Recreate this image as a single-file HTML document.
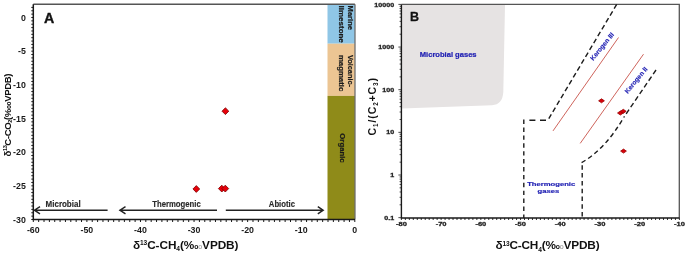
<!DOCTYPE html>
<html><head><meta charset="utf-8"><style>
html,body{margin:0;padding:0;background:#fff;width:685px;height:253px;overflow:hidden}
svg{display:block;filter:blur(0.35px)}
text{font-family:"Liberation Sans",sans-serif;font-weight:bold;fill:#1a1a1a}
.t8{font-size:8.8px}
.t7{font-size:8.3px;fill:#2a2a2a;stroke:#2a2a2a;stroke-width:0.15px}
.t7b{font-size:7.6px;fill:#1a1a1a;stroke:#1a1a1a;stroke-width:0.2px}
.t6{font-size:5.8px;fill:#222;stroke:#222;stroke-width:0.3px}
.big{font-size:14.2px;fill:#111;stroke:#111;stroke-width:0.35px}
.bigB{font-size:12.5px;fill:#111;stroke:#111;stroke-width:0.3px}
.lab{font-size:11.8px;fill:#111}
.sup{font-size:6.6px}
.sub{font-size:6.6px}
.o{font-size:7px;fill:#888;font-weight:normal}
.ob{font-size:6.8px}
.ob9{font-size:6.5px}
.lab9{font-size:9.6px;fill:#111}
.lab11{font-size:10.6px;fill:#111}
.sup9,.sub9{font-size:5.6px}
.sub11{font-size:6.4px}
.o9{font-size:6px;fill:#999;font-weight:normal}
.bl7{font-size:6.2px;fill:#2323b4;stroke:#2323b4;stroke-width:0.2px}
.bl7m{font-size:6.5px;fill:#2323b4;stroke:#2323b4;stroke-width:0.2px}
.bl6{font-size:6.5px;fill:#2323b4;stroke:#2323b4;stroke-width:0.15px}
</style></head><body>
<svg width="685" height="253" viewBox="0 0 685 253">
<rect x="327.5" y="4.5" width="27.3" height="39.2" fill="#8fc6e6"/>
<rect x="327.5" y="43.7" width="27.3" height="52.2" fill="#ecc593"/>
<rect x="327.5" y="95.9" width="27.3" height="123.4" fill="#8f8b19"/>
<path d="M33.3 4.3H354.9" fill="none" stroke="#555" stroke-width="1.5"/>
<path d="M355 4.3V219.5" fill="none" stroke="#555" stroke-width="1.1"/>
<path d="M33.3 4.3V219.5H355" fill="none" stroke="#1a1a1a" stroke-width="1.5"/>
<path d="M31.3 7.40H33.3M31.3 10.77H33.3M31.3 14.13H33.3M31.3 17.50H33.3M31.3 20.87H33.3M31.3 24.23H33.3M31.3 27.60H33.3M31.3 30.97H33.3M31.3 34.33H33.3M31.3 37.70H33.3M31.3 41.07H33.3M31.3 44.43H33.3M31.3 47.80H33.3M31.3 51.17H33.3M31.3 54.53H33.3M31.3 57.90H33.3M31.3 61.27H33.3M31.3 64.63H33.3M31.3 68.00H33.3M31.3 71.37H33.3M31.3 74.73H33.3M31.3 78.10H33.3M31.3 81.47H33.3M31.3 84.83H33.3M31.3 88.20H33.3M31.3 91.57H33.3M31.3 94.93H33.3M31.3 98.30H33.3M31.3 101.67H33.3M31.3 105.03H33.3M31.3 108.40H33.3M31.3 111.77H33.3M31.3 115.13H33.3M31.3 118.50H33.3M31.3 121.87H33.3M31.3 125.23H33.3M31.3 128.60H33.3M31.3 131.97H33.3M31.3 135.33H33.3M31.3 138.70H33.3M31.3 142.07H33.3M31.3 145.43H33.3M31.3 148.80H33.3M31.3 152.17H33.3M31.3 155.53H33.3M31.3 158.90H33.3M31.3 162.27H33.3M31.3 165.63H33.3M31.3 169.00H33.3M31.3 172.37H33.3M31.3 175.73H33.3M31.3 179.10H33.3M31.3 182.47H33.3M31.3 185.83H33.3M31.3 189.20H33.3M31.3 192.57H33.3M31.3 195.93H33.3M31.3 199.30H33.3M31.3 202.67H33.3M31.3 206.03H33.3M31.3 209.40H33.3M31.3 212.77H33.3M31.3 216.13H33.3M31.3 219.50H33.3" stroke="#1a1a1a" stroke-width="1"/>
<path d="M33.30 219.5V222M38.66 219.5V222M44.02 219.5V222M49.38 219.5V222M54.73 219.5V222M60.09 219.5V222M65.45 219.5V222M70.81 219.5V222M76.17 219.5V222M81.53 219.5V222M86.88 219.5V222M92.24 219.5V222M97.60 219.5V222M102.96 219.5V222M108.32 219.5V222M113.67 219.5V222M119.03 219.5V222M124.39 219.5V222M129.75 219.5V222M135.11 219.5V222M140.47 219.5V222M145.82 219.5V222M151.18 219.5V222M156.54 219.5V222M161.90 219.5V222M167.26 219.5V222M172.62 219.5V222M177.98 219.5V222M183.33 219.5V222M188.69 219.5V222M194.05 219.5V222M199.41 219.5V222M204.77 219.5V222M210.12 219.5V222M215.48 219.5V222M220.84 219.5V222M226.20 219.5V222M231.56 219.5V222M236.92 219.5V222M242.27 219.5V222M247.63 219.5V222M252.99 219.5V222M258.35 219.5V222M263.71 219.5V222M269.07 219.5V222M274.43 219.5V222M279.78 219.5V222M285.14 219.5V222M290.50 219.5V222M295.86 219.5V222M301.22 219.5V222M306.57 219.5V222M311.93 219.5V222M317.29 219.5V222M322.65 219.5V222M328.01 219.5V222M333.37 219.5V222M338.73 219.5V222M344.08 219.5V222M349.44 219.5V222M354.80 219.5V222" stroke="#1a1a1a" stroke-width="1"/>
<text x="25.8" y="20.60" text-anchor="end" class="t8">0</text>
<text x="25.8" y="54.27" text-anchor="end" class="t8">-5</text>
<text x="25.8" y="87.93" text-anchor="end" class="t8">-10</text>
<text x="25.8" y="121.60" text-anchor="end" class="t8">-15</text>
<text x="25.8" y="155.27" text-anchor="end" class="t8">-20</text>
<text x="25.8" y="188.93" text-anchor="end" class="t8">-25</text>
<text x="25.8" y="222.60" text-anchor="end" class="t8">-30</text>
<text x="33.30" y="232.8" text-anchor="middle" class="t8">-60</text>
<text x="86.88" y="232.8" text-anchor="middle" class="t8">-50</text>
<text x="140.47" y="232.8" text-anchor="middle" class="t8">-40</text>
<text x="194.05" y="232.8" text-anchor="middle" class="t8">-30</text>
<text x="247.63" y="232.8" text-anchor="middle" class="t8">-20</text>
<text x="301.22" y="232.8" text-anchor="middle" class="t8">-10</text>
<text x="354.80" y="232.8" text-anchor="middle" class="t8">0</text>
<text x="44" y="23" class="big">A</text>
<path d="M33.8 210.2H107.6M40.0 206.6L34.4 210.2L40.0 213.79999999999998" fill="none" stroke="#222" stroke-width="1.4"/>
<path d="M119.3 210.2H217M125.5 206.6L119.89999999999999 210.2L125.5 213.79999999999998" fill="none" stroke="#222" stroke-width="1.4"/>
<path d="M225.8 210.2H323.4M317.8 206.6L323.2 210.2L317.8 213.8" fill="none" stroke="#222" stroke-width="1.4"/>
<text x="45.6" y="206.9" class="t7" textLength="35" lengthAdjust="spacingAndGlyphs">Microbial</text>
<text x="152.2" y="206.9" class="t7" textLength="48.6" lengthAdjust="spacingAndGlyphs">Thermogenic</text>
<text x="268.8" y="206.9" class="t7" textLength="26.2" lengthAdjust="spacingAndGlyphs">Abiotic</text>
<path d="M225.4 107.8L228.8 111.2L225.4 114.60000000000001L222.0 111.2Z" fill="#e8000a" stroke="#7a0000" stroke-width="0.8"/>
<path d="M196.3 185.6L199.70000000000002 189L196.3 192.4L192.9 189Z" fill="#e8000a" stroke="#7a0000" stroke-width="0.8"/>
<path d="M221.8 185.2L225.20000000000002 188.6L221.8 192.0L218.4 188.6Z" fill="#e8000a" stroke="#7a0000" stroke-width="0.8"/>
<path d="M225.3 185.2L228.70000000000002 188.6L225.3 192.0L221.9 188.6Z" fill="#e8000a" stroke="#7a0000" stroke-width="0.8"/>
<text transform="translate(347.5,5.6) rotate(90)" class="t7b" textLength="24.4" lengthAdjust="spacingAndGlyphs">Marine</text>
<text transform="translate(339.2,5.6) rotate(90)" class="t7b" textLength="37.2" lengthAdjust="spacingAndGlyphs">limestone</text>
<text transform="translate(347.9,54.9) rotate(90)" class="t7b" textLength="32.1" lengthAdjust="spacingAndGlyphs">Volcanic-</text>
<text transform="translate(339.2,54.9) rotate(90)" class="t7b" textLength="36.4" lengthAdjust="spacingAndGlyphs">magmatic</text>
<text transform="translate(339.6,133.3) rotate(90)" class="t7b" textLength="29.4" lengthAdjust="spacingAndGlyphs">Organic</text>
<text x="132.9" y="248.6" class="lab" textLength="105.6">δ<tspan class="sup" dy="-3.8">13</tspan><tspan dy="3.8">C-CH</tspan><tspan class="sub" dy="2.2">4</tspan><tspan dy="-2.2">(%</tspan><tspan class="ob">o</tspan><tspan class="o">o</tspan>VPDB)</text>
<text transform="translate(10.5,156.5) rotate(-90)" class="lab9" textLength="83">δ<tspan class="sup9" dy="-3.2">13</tspan><tspan dy="3.2">C-CO</tspan><tspan class="sub9" dy="1.8">2</tspan><tspan dy="-1.8">(%</tspan><tspan class="ob9">oo</tspan>VPDB)</text>
<path d="M401.4 108.6L401.4 5L505 5L503.3 92Q502.6 104.6 492 105.2Z" fill="#e6e3e3"/>
<path d="M401.4 4.4H679.3V218" fill="none" stroke="#555" stroke-width="1.3"/>
<path d="M401.4 4.4V218H679.4" fill="none" stroke="#1a1a1a" stroke-width="1.4"/>
<path d="M398.4 217.65H401.4M399.59999999999997 204.81H401.4M399.59999999999997 197.30H401.4M399.59999999999997 191.97H401.4M399.59999999999997 187.84H401.4M399.59999999999997 184.46H401.4M399.59999999999997 181.61H401.4M399.59999999999997 179.13H401.4M399.59999999999997 176.95H401.4M398.4 175.00H401.4M399.59999999999997 162.16H401.4M399.59999999999997 154.65H401.4M399.59999999999997 149.32H401.4M399.59999999999997 145.19H401.4M399.59999999999997 141.81H401.4M399.59999999999997 138.96H401.4M399.59999999999997 136.48H401.4M399.59999999999997 134.30H401.4M398.4 132.35H401.4M399.59999999999997 119.51H401.4M399.59999999999997 112.00H401.4M399.59999999999997 106.67H401.4M399.59999999999997 102.54H401.4M399.59999999999997 99.16H401.4M399.59999999999997 96.31H401.4M399.59999999999997 93.83H401.4M399.59999999999997 91.65H401.4M398.4 89.70H401.4M399.59999999999997 76.86H401.4M399.59999999999997 69.35H401.4M399.59999999999997 64.02H401.4M399.59999999999997 59.89H401.4M399.59999999999997 56.51H401.4M399.59999999999997 53.66H401.4M399.59999999999997 51.18H401.4M399.59999999999997 49.00H401.4M398.4 47.05H401.4M399.59999999999997 34.21H401.4M399.59999999999997 26.70H401.4M399.59999999999997 21.37H401.4M399.59999999999997 17.24H401.4M399.59999999999997 13.86H401.4M399.59999999999997 11.01H401.4M399.59999999999997 8.53H401.4M399.59999999999997 6.35H401.4M398.4 4.40H401.4" stroke="#1a1a1a" stroke-width="0.8"/>
<path d="M401.40 218V220M405.37 218V220M409.34 218V220M413.31 218V220M417.29 218V220M421.26 218V220M425.23 218V220M429.20 218V220M433.17 218V220M437.14 218V220M441.11 218V220M445.09 218V220M449.06 218V220M453.03 218V220M457.00 218V220M460.97 218V220M464.94 218V220M468.91 218V220M472.89 218V220M476.86 218V220M480.83 218V220M484.80 218V220M488.77 218V220M492.74 218V220M496.71 218V220M500.69 218V220M504.66 218V220M508.63 218V220M512.60 218V220M516.57 218V220M520.54 218V220M524.51 218V220M528.49 218V220M532.46 218V220M536.43 218V220M540.40 218V220M544.37 218V220M548.34 218V220M552.31 218V220M556.29 218V220M560.26 218V220M564.23 218V220M568.20 218V220M572.17 218V220M576.14 218V220M580.11 218V220M584.09 218V220M588.06 218V220M592.03 218V220M596.00 218V220M599.97 218V220M603.94 218V220M607.91 218V220M611.89 218V220M615.86 218V220M619.83 218V220M623.80 218V220M627.77 218V220M631.74 218V220M635.71 218V220M639.69 218V220M643.66 218V220M647.63 218V220M651.60 218V220M655.57 218V220M659.54 218V220M663.51 218V220M667.49 218V220M671.46 218V220M675.43 218V220M679.40 218V220" stroke="#1a1a1a" stroke-width="0.9" />
<text transform="translate(394.2,6.50) scale(1.23,1)" text-anchor="end" class="t6">10000</text>
<text transform="translate(394.2,49.15) scale(1.23,1)" text-anchor="end" class="t6">1000</text>
<text transform="translate(394.2,91.80) scale(1.23,1)" text-anchor="end" class="t6">100</text>
<text transform="translate(394.2,134.45) scale(1.23,1)" text-anchor="end" class="t6">10</text>
<text transform="translate(394.2,177.10) scale(1.23,1)" text-anchor="end" class="t6">1</text>
<text transform="translate(394.2,219.75) scale(1.23,1)" text-anchor="end" class="t6">0.1</text>
<text transform="translate(401.40,226.1) scale(1.3,1)" text-anchor="middle" class="t6">-80</text>
<text transform="translate(441.11,226.1) scale(1.3,1)" text-anchor="middle" class="t6">-70</text>
<text transform="translate(480.83,226.1) scale(1.3,1)" text-anchor="middle" class="t6">-60</text>
<text transform="translate(520.54,226.1) scale(1.3,1)" text-anchor="middle" class="t6">-50</text>
<text transform="translate(560.26,226.1) scale(1.3,1)" text-anchor="middle" class="t6">-40</text>
<text transform="translate(599.97,226.1) scale(1.3,1)" text-anchor="middle" class="t6">-30</text>
<text transform="translate(639.69,226.1) scale(1.3,1)" text-anchor="middle" class="t6">-20</text>
<text transform="translate(679.40,226.1) scale(1.3,1)" text-anchor="middle" class="t6">-10</text>
<text x="410" y="20.8" class="bigB">B</text>
<text x="419.8" y="57.3" class="bl7m" textLength="56.8" lengthAdjust="spacingAndGlyphs">Microbial gases</text>
<path d="M523.8 119.6V218" fill="none" stroke="#1c1c1c" stroke-width="1.4" stroke-dasharray="4.4 3.5"/>
<path d="M529.4 120.2H548" fill="none" stroke="#1c1c1c" stroke-width="1.4" stroke-dasharray="6 4.6"/>
<path d="M616.7 4.4L548.8 118.6" fill="none" stroke="#1c1c1c" stroke-width="1.4" stroke-dasharray="5 3"/>
<path d="M582.2 165.3V218" fill="none" stroke="#1c1c1c" stroke-width="1.4" stroke-dasharray="4.5 3.3"/>
<path d="M656 70L624 117" fill="none" stroke="#1c1c1c" stroke-width="1.4" stroke-dasharray="5 3"/>
<path d="M581.6 162.6Q605.5 149 624 117" fill="none" stroke="#1c1c1c" stroke-width="1.4" stroke-dasharray="4.6 3.2"/>
<path d="M553 130.9L618.5 37.5M580.2 143.4L643.5 54.2" stroke="#c8524a" stroke-width="0.9"/>
<path d="M601.5 98.8L604.4 100.8L601.5 102.8L598.6 100.8Z" fill="#d8000a" stroke="#900" stroke-width="0.8"/>
<path d="M620.4 111.0L623.3 113L620.4 115.0L617.5 113Z" fill="#d8000a" stroke="#900" stroke-width="0.8"/>
<path d="M623.3 109.3L626.1999999999999 111.3L623.3 113.3L620.4 111.3Z" fill="#d8000a" stroke="#900" stroke-width="0.8"/>
<path d="M623.5 149.1L626.4 151.1L623.5 153.1L620.6 151.1Z" fill="#d8000a" stroke="#900" stroke-width="0.8"/>
<text transform="translate(593.2,61) rotate(-51)" class="bl6">Kerogen III</text>
<text transform="translate(627.8,94) rotate(-51)" class="bl6">Kerogen II</text>
<text x="527.2" y="186.1" class="bl7" textLength="48" lengthAdjust="spacingAndGlyphs">Thermogenic</text>
<text x="537.6" y="192.6" class="bl7" textLength="21.8" lengthAdjust="spacingAndGlyphs">gases</text>
<text x="495.4" y="249.3" class="lab" textLength="104.2">δ<tspan class="sup" dy="-3.8">13</tspan><tspan dy="3.8">C-CH</tspan><tspan class="sub" dy="2.2">4</tspan><tspan dy="-2.2">(%</tspan><tspan class="ob">o</tspan><tspan class="o">o</tspan>VPDB)</text>
<text transform="translate(376.2,135.4) rotate(-90)" class="lab11" textLength="57.4">C<tspan class="sub11" dy="2.2">1</tspan><tspan dy="-2.2">/(C</tspan><tspan class="sub11" dy="2.2">2</tspan><tspan dy="-2.2">+C</tspan><tspan class="sub11" dy="2.2">3</tspan><tspan dy="-2.2">)</tspan></text>
</svg>
</body></html>
